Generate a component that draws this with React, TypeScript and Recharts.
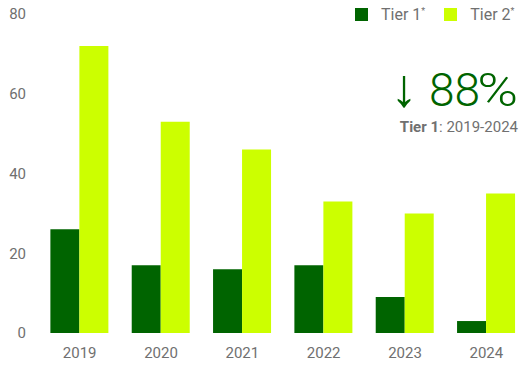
import React from "react";
import { BarChart, Bar, XAxis, YAxis } from "recharts";

const years = ["2019", "2020", "2021", "2022", "2023", "2024"];
const tier1 = [26, 17, 16, 17, 9, 3];
const tier2 = [72, 53, 46, 33, 30, 35];
const yTicks = [0, 20, 40, 60, 80];

const data = years.map((y, i) => ({ year: y, tier1: tier1[i], tier2: tier2[i] }));

const DARK = "#006400";
const LIME = "#CCFF00";
const GRAY = "#707070";
const FONT = "Roboto, 'Liberation Sans', Arial, sans-serif";

export default function App() {
  return (
    <div
      style={{
        position: "fixed",
        left: 0,
        top: 0,
        width: 521,
        height: 365,
        overflow: "hidden",
        background: "#fff",
        fontFamily: FONT,
      }}
    >
      <BarChart
        width={528}
        height={365}
        data={data}
        margin={{ top: 14, right: 1, bottom: 0, left: 0 }}
        barCategoryGap="14%"
        barGap={0}
      >
        <XAxis
          dataKey="year"
          axisLine={false}
          tickLine={false}
          height={32}
          tick={{ fill: GRAY, fontSize: 15, fontFamily: FONT }}
          tickMargin={8}
        />
        <YAxis
          width={39}
          domain={[0, 80]}
          ticks={yTicks}
          axisLine={false}
          tickLine={false}
          tick={{ fill: GRAY, fontSize: 15, fontFamily: FONT }}
          tickMargin={7}
        />
        <Bar dataKey="tier1" fill={DARK} isAnimationActive={false} />
        <Bar dataKey="tier2" fill={LIME} isAnimationActive={false} />
      </BarChart>
      <div
        style={{
          position: "absolute",
          left: 355,
          top: 5,
          display: "flex",
          alignItems: "center",
          color: GRAY,
          fontSize: 16,
          whiteSpace: "nowrap",
        }}
      >
        <span style={{ width: 13, height: 13, background: DARK, display: "inline-block", marginRight: 13 }} />
        <span>
          Tier 1<sup style={{ fontSize: 9 }}>*</sup>
        </span>
        <span style={{ width: 13, height: 13, background: LIME, display: "inline-block", marginLeft: 19, marginRight: 13 }} />
        <span>
          Tier 2<sup style={{ fontSize: 9 }}>*</sup>
        </span>
      </div>
      <div
        style={{
          position: "absolute",
          right: 3,
          top: 62,
          textAlign: "right",
          whiteSpace: "nowrap",
        }}
      >
        <div style={{ color: DARK, fontSize: 46, fontWeight: 300, lineHeight: "52px" }}>
          <span style={{ fontSize: 54, lineHeight: "52px" }}>↓</span> 88<span style={{ marginLeft: 4, display: "inline-block", transform: "scaleX(1.2)", transformOrigin: "right" }}>%</span>
        </div>
        <div style={{ color: GRAY, fontSize: 15, marginTop: 2 }}>
          <b>Tier 1</b>: 2019-2024
        </div>
      </div>
    </div>
  );
}
